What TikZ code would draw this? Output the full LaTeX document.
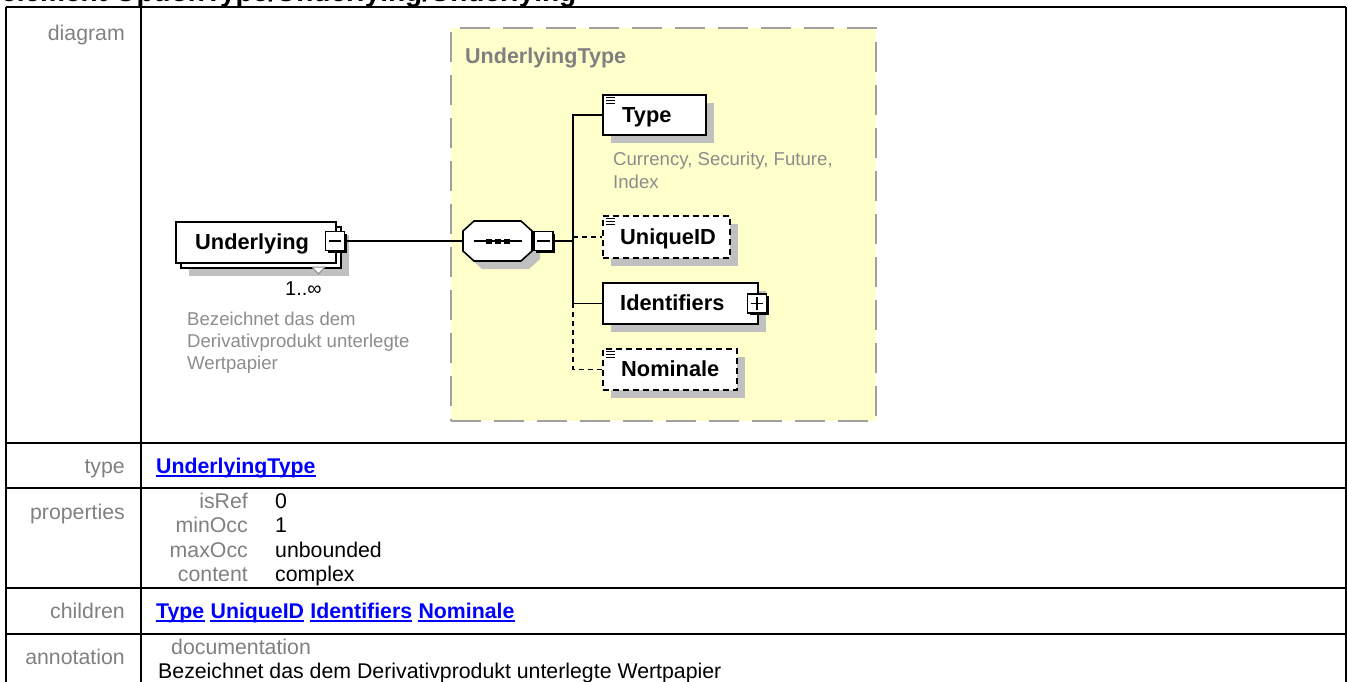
\documentclass[tikz,border=0pt]{standalone}
\usepackage{fontspec}
\setmainfont{Liberation Sans}
\usetikzlibrary{shadows}
\newcommand{\myfs}[1]{\fontsize{#1pt}{#1pt}\selectfont}
\definecolor{lblgray}{RGB}{128,128,128}
\definecolor{descgray}{RGB}{140,140,140}
\definecolor{boxyellow}{RGB}{255,255,204}
\definecolor{dashgray}{RGB}{160,160,160}
\definecolor{shadowgray}{RGB}{192,192,192}
\definecolor{linkblue}{RGB}{0,0,255}
\begin{document}
\begin{tikzpicture}[x=1pt,y=-1pt,
  tline/.style={line width=2pt},
  lbl/.style={font=\myfs{21.3}, text=lblgray, inner sep=0pt, anchor=base east},
  val/.style={font=\myfs{21.3}, text=black, inner sep=0pt, anchor=base west},
  link/.style={font=\bfseries\myfs{21.3}, text=linkblue, inner sep=0pt, anchor=base west},
  uline/.style={draw=linkblue, line width=1.4pt},
  shd/.style={drop shadow={shadow xshift=8pt, shadow yshift=-8pt, opacity=1, fill=shadowgray}},
  elbox/.style={draw=black, line width=1.6pt, fill=white, inner sep=0pt, anchor=north west},
  optbox/.style={elbox, dash pattern=on 6pt off 4pt},
  eltxt/.style={font=\bfseries\myfs{21.8}, inner sep=0pt, anchor=base west},
  desc/.style={font=\myfs{18.6}, text=descgray, inner sep=0pt, anchor=base west},
  pmbox/.style={draw=black, line width=1.2pt, fill=white, minimum size=19pt, inner sep=0pt,
    drop shadow={shadow xshift=2.2pt, shadow yshift=-2.2pt, opacity=1, fill=black}},
  conn/.style={line width=1.5pt},
  dconn/.style={line width=1.5pt, dash pattern=on 5pt off 4pt},
  icon/.style={line width=1pt}
]
\useasboundingbox (0,0) rectangle (1348,681);

% title (cut at top)
\node[font=\bfseries\myfs{28}, inner sep=0pt, anchor=base west] (title) at (1,1.5) {element OptionType/Underlying/Underlying};

% table grid
\draw[tline] (6,7) -- (1346,7);
\draw[tline] (6,7) -- (6,690);
\draw[tline] (1346,7) -- (1346,690);
\draw[tline] (141,7) -- (141,690);
\foreach \yy in {443,488,588,634} \draw[tline] (6,\yy) -- (1346,\yy);

% complex type box
\node[draw=dashgray, line width=2pt, dash pattern=on 30pt off 13pt, fill=boxyellow,
  minimum width=425pt, minimum height=393pt, inner sep=0pt, anchor=north west] (ctype) at (450,27) {};
\node[font=\bfseries\myfs{21.5}, text=lblgray, inner sep=0pt, anchor=base west] (ctypelbl) at (465,63.5) {UnderlyingType};

% Underlying element
\node[elbox, shd, minimum width=160pt, minimum height=41pt] (uback) at (180,226) {};
\node[elbox, minimum width=160pt, minimum height=41pt] (ufront) at (175,221) {};
\node[eltxt] (utxt) at (195,249) {Underlying};
\draw[descgray, line width=1pt, fill=white] (312,267) -- (325,267) -- (318.5,274) -- cycle;
\node[pmbox] (umin) at (335,241) {};
\draw[line width=1.4pt] ([xshift=4pt]umin.west) -- ([xshift=-4pt]umin.east);
\node[font=\myfs{20}, inner sep=0pt, anchor=base west] (mult) at (285,295) {1..∞};
\node[desc] (ud1) at (187,325) {Bezeichnet das dem};
\node[desc] (ud2) at (187,347) {Derivativprodukt unterlegte};
\node[desc] (ud3) at (187,369) {Wertpapier};

% sequence compositor
\begin{scope}[shift={(505.5,249)}]
  \fill[shadowgray] (-23.5,-20) -- (23.5,-20) -- (34.5,-10) -- (34.5,10) -- (23.5,20) -- (-23.5,20) -- (-34.5,10) -- (-34.5,-10) -- cycle;
\end{scope}
\begin{scope}[shift={(497.5,241)}]
  \draw[line width=1.6pt, fill=white] (-23.5,-20) -- (23.5,-20) -- (34.5,-10) -- (34.5,10) -- (23.5,20) -- (-23.5,20) -- (-34.5,10) -- (-34.5,-10) -- cycle;
  \draw[line width=1.3pt] (-24,0) -- (24,0);
  \foreach \sx in {-9,0,9} \fill (\sx-3,-2.5) rectangle (\sx+3,2.5);
\end{scope}
\node[minimum width=69pt, minimum height=40pt, inner sep=0pt] (seq) at (497.5,241) {};
\node[pmbox] (smin) at (543.5,241) {};
\draw[line width=1.4pt] ([xshift=4pt]smin.west) -- ([xshift=-4pt]smin.east);
\coordinate (bus) at (573,241);

% children
\node[elbox, shd, minimum width=103pt, minimum height=40pt] (type) at (602,94) {};
\node[eltxt] (typet) at (622,122) {Type};
\node[desc] (typed1) at (613,165) {Currency, Security, Future,};
\node[desc] (typed2) at (613,188) {Index};

\node[optbox, shd, minimum width=127pt, minimum height=42pt] (uid) at (602,215) {};
\node[eltxt] (uidt) at (620,244) {UniqueID};

\node[elbox, shd, minimum width=155pt, minimum height=41pt] (idf) at (602,282) {};
\node[eltxt] (idft) at (620,310.5) {Identifiers};
\node[pmbox] (ipl) at (757,303.5) {};
\draw[line width=1.4pt] ([xshift=4pt]ipl.west) -- ([xshift=-4pt]ipl.east);
\draw[line width=1.4pt] ([yshift=-4pt]ipl.north) -- ([yshift=4pt]ipl.south);

\node[optbox, shd, minimum width=134pt, minimum height=41pt] (nom) at (602,348) {};
\node[eltxt] (nomt) at (621,376.5) {Nominale};

\foreach \bx in {type,uid,nom}
  \foreach \dy in {3,6,9}
    \draw[icon] ([xshift=4pt,yshift=-\dy pt]\bx.north west) -- ++(9,0);

% connectors
\draw[conn] (umin.east) -- (seq.west);
\draw[conn] (smin.east) -- (bus);
\draw[conn] (type.west) -- (type.west -| bus) -- (idf.west -| bus) -- (idf.west);
\draw[dconn] (uid.west -| bus) -- (uid.west);
\draw[dconn] (idf.west -| bus) -- (nom.west -| bus) -- (nom.west);

% table texts
\node[lbl] (ldiag) at (125,40) {diagram};
\node[lbl] (ltype) at (125,473.5) {type};
\node[link] (vtype) at (156,473.5) {UnderlyingType};

\node[lbl] (lprop) at (125,519) {properties};
\node[lbl] (pn1) at (248,508) {isRef};
\node[val] (pv1) at (275,508) {0};
\node[lbl] (pn2) at (248,532.5) {minOcc};
\node[val] (pv2) at (275,532.5) {1};
\node[lbl] (pn3) at (248,557) {maxOcc};
\node[val] (pv3) at (275,557) {unbounded};
\node[lbl] (pn4) at (248,581.5) {content};
\node[val] (pv4) at (275,581.5) {complex};

\node[lbl] (lchild) at (125,618.5) {children};
\node[link] (c1) at (156,618.5) {Type};
\node[link] (c2) at ([xshift=5.9pt]c1.base east) {UniqueID};
\node[link] (c3) at ([xshift=5.9pt]c2.base east) {Identifiers};
\node[link] (c4) at ([xshift=5.9pt]c3.base east) {Nominale};
\foreach \n in {vtype,c1,c2,c3,c4}
  \draw[uline] ([yshift=-2.5pt]\n.base west) -- ([yshift=-2.5pt]\n.base east);

\node[lbl] (lann) at (125,664) {annotation};
\node[val, text=lblgray] (adoc) at (171,654) {documentation};
\node[val] (atext) at (158,678.5) {Bezeichnet das dem Derivativprodukt unterlegte Wertpapier};
\end{tikzpicture}
\end{document}
